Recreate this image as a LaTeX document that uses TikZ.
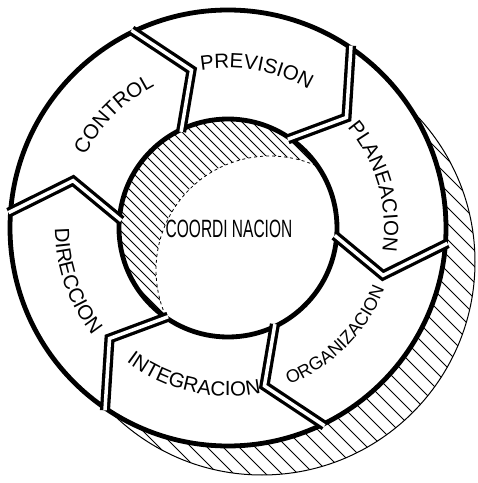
\documentclass[tikz,border=0pt]{standalone}
\usepackage{fontspec}
\setmainfont{Liberation Sans}
\usetikzlibrary{decorations.text}
\newcommand{\lblfont}{\fontsize{20.5}{23}\selectfont}
\newcommand{\smlfont}{\fontsize{18}{21}\selectfont}

\begin{document}
\begin{tikzpicture}[x=1pt, y=1pt,
        ring/.style={line width=4.8pt},
        sep/.style={line width=3.3pt, double, double distance=3.5pt, line join=miter},
        hatch/.style={line width=0.8pt},
        arclbl/.style={decorate, decoration={text along path, text align=center, text={#1}}}]
    \useasboundingbox (0,0) rectangle (478,483);
    \begin{scope}[shift={(228,255)}]
        % outer shadow
        \begin{scope}
            \clip (34,-34) circle (213);
            \foreach \k in {-480,-464,...,480}
                \draw[hatch] (\k-300,300) -- (\k+300,-300);
        \end{scope}
        \draw[line width=1pt] (34,-34) circle (213);

        % ring
        \draw[ring, fill=white] (0,0) circle (218);

        % inner shadow
        \begin{scope}
            \clip (0,0) circle (109);
            \foreach \k in {-240,-230,...,240}
                \draw[hatch] (\k-150,150) -- (\k+150,-150);
            \draw[fill=white, line width=0.8pt, dash pattern=on 3pt off 3pt] (42,-42) circle (114);
        \end{scope}
        \draw[ring] (0,0) circle (109);
        \node[font=\fontsize{25}{28}\selectfont, xscale=0.62] (coord) at (1,-1) {COORDI NACION};

        % separators between the stages
        \foreach \a [count=\i] in {116,56,-4,-64,-124,-184} {
            \pgfmathsetmacro{\b}{\a-13}
            \coordinate (out\i) at (\a:220);
            \coordinate (tip\i) at (\b:162);
            \coordinate (in\i) at (\a:107);
            \draw[sep] (out\i) -- (tip\i) -- (in\i);
        }

        % stages
        \path[arclbl={|\lblfont|CONTROL}] (175.2:160) arc[start angle=175.2, end angle=95.2, radius=160];
        \path[arclbl={|\lblfont|PREVISION}] (119.7:160) arc[start angle=119.7, end angle=39.7, radius=160];
        \path[arclbl={|\lblfont|PLANEACION}] (55.9:156) arc[start angle=55.9, end angle=-24.1, radius=156];
        \path[arclbl={|\smlfont|ORGANIZACION}] (-85:168) arc[start angle=-85, end angle=-5, radius=168];
        \path[arclbl={|\lblfont|INTEGRACION}] (-142.9:168) arc[start angle=-142.9, end angle=-62.9, radius=168];
        \path[arclbl={|\lblfont|DIRECCION}] (159.3:173) arc[start angle=159.3, end angle=239.3, radius=173];
    \end{scope}
\end{tikzpicture}
\end{document}
